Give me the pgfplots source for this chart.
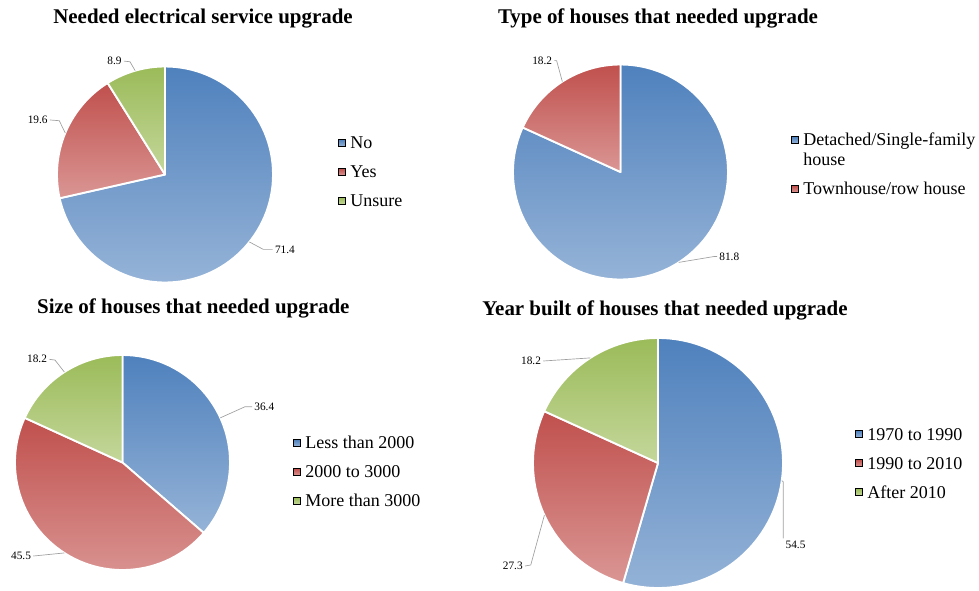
\documentclass[border=0pt]{standalone}
\usepackage{pgfplots}
\usepackage{pgfplotstable}
\pgfplotsset{compat=1.18}
\usepackage{fontspec}
\setmainfont{Liberation Serif}

\definecolor{bluetop}{RGB}{79,129,189}
\definecolor{bluebot}{RGB}{149,179,215}
\definecolor{redtop}{RGB}{192,80,77}
\definecolor{redbot}{RGB}{218,150,148}
\definecolor{greentop}{RGB}{155,187,89}
\definecolor{greenbot}{RGB}{196,215,155}

% value, colour, leader elbow (ex,ey) and end (tx,ty) in pie radii, label anchor
\pgfplotstableread[col sep=comma]{
value,col,ex,ey,tx,ty,anc
71.4,blue,0.910,-0.693,0.997,-0.693,west
19.6,red,-0.979,0.498,-1.065,0.505,east
8.9,green,-0.324,1.044,-0.380,1.050,east
}\pieservice
\pgfplotstableread[col sep=comma]{
value,col,ex,ey,tx,ty,anc
81.8,blue,0.870,-0.786,0.898,-0.786,west
18.2,red,-0.594,1.035,-0.614,1.037,east
}\pietype
\pgfplotstableread[col sep=comma]{
value,col,ex,ey,tx,ty,anc
36.4,blue,1.140,0.519,1.205,0.519,west
45.5,red,-0.830,-0.870,-0.830,-0.870,east
18.2,green,-0.628,0.953,-0.681,0.960,east
}\piesize
\pgfplotstableread[col sep=comma]{
value,col,ex,ey,tx,ty,anc
54.5,blue,1.002,-0.150,1.002,-0.602,north west
27.3,red,-1.018,-0.816,-1.064,-0.824,east
18.2,green,-0.918,0.816,-0.918,0.816,east
}\pieyear

\tikzset{
  leader/.style={draw=gray!75, line width=0.5pt},
  pielabel/.style={font=\fontsize{8.5}{10}\selectfont, inner sep=1.5pt},
  pietitle/.style={font=\bfseries\fontsize{15.7}{18}\selectfont, anchor=base},
}

\pgfplotsset{
  pie/.style={hide axis, clip=false, xmin=-1, xmax=1, ymin=-1, ymax=1, anchor=center,
    legend cell align=left,
    legend style={draw=none, fill=none, inner sep=0pt, row sep=12.75pt, column sep=3.75pt,
      anchor=west, font=\fontsize{13.5}{15}\selectfont,
      nodes={inner sep=0pt, text height=9pt, text depth=0pt}}},
  sq/.style 2 args={legend image code/.code={%
    \shade[top color=#1, bottom color=#2] (0pt,-2.5pt) rectangle (5pt,2.5pt);}},
}

% slices start at 12 o'clock and run clockwise
\newcommand\drawpie[2]{%
  \pgfplotstablegetrowsof{#1}%
  \pgfmathtruncatemacro\pielast{\pgfplotsretval-1}%
  \def\pietotal{0}%
  \pgfplotsforeachungrouped \pierow in {0,...,\pielast}{%
    \pgfplotstablegetelem{\pierow}{value}\of{#1}%
    \pgfmathsetmacro\pietotal{\pietotal+\pgfplotsretval}%
  }%
  \def\piestart{90}%
  \pgfplotsforeachungrouped \pierow in {0,...,\pielast}{%
    \pgfplotstablegetelem{\pierow}{value}\of{#1}\let\pieval\pgfplotsretval
    \pgfplotstablegetelem{\pierow}{col}\of{#1}\let\piecol\pgfplotsretval
    \pgfplotstablegetelem{\pierow}{ex}\of{#1}\let\pieex\pgfplotsretval
    \pgfplotstablegetelem{\pierow}{ey}\of{#1}\let\pieey\pgfplotsretval
    \pgfplotstablegetelem{\pierow}{tx}\of{#1}\let\pietx\pgfplotsretval
    \pgfplotstablegetelem{\pierow}{ty}\of{#1}\let\piety\pgfplotsretval
    \pgfplotstablegetelem{\pierow}{anc}\of{#1}\let\pieanc\pgfplotsretval
    \pgfmathsetmacro\pieend{\piestart-\pieval/\pietotal*360}%
    \pgfmathsetmacro\piemid{(\piestart+\pieend)/2}%
    \pgfmathsetmacro\piexs{cos(\piestart)}\pgfmathsetmacro\pieys{sin(\piestart)}%
    \pgfmathsetmacro\piexm{cos(\piemid)}\pgfmathsetmacro\pieym{sin(\piemid)}%
    \edef\pieslice{%
      \noexpand\path[draw=white, line width=1.4pt, line join=round,
        top color=\piecol top, bottom color=\piecol bot]
        (axis cs:0,0) -- (axis cs:\piexs,\pieys)
        arc[start angle=\piestart, end angle=\pieend, radius=#2] -- cycle;
      \noexpand\draw[leader] (axis cs:\piexm,\pieym) -- (axis cs:\pieex,\pieey)
        -- (axis cs:\pietx,\piety) node[pielabel, anchor=\pieanc] {\pieval};
    }\pieslice
    \let\piestart\pieend
  }%
}

\begin{document}
\begin{tikzpicture}
\useasboundingbox (0,0) rectangle (734.25pt,-442.5pt);

\begin{axis}[pie, at={(123.75pt,-130.875pt)}, x=81pt, y=81pt,
  legend style={at={(1.301,0.512)}}]
  \drawpie{\pieservice}{81pt}
  \node[pietitle] at (axis cs:0.352,1.394) {Needed electrical service upgrade};
  \addlegendimage{sq={bluetop}{bluebot}}\addlegendentry{No}
  \addlegendimage{sq={redtop}{redbot}}\addlegendentry{Yes}
  \addlegendimage{sq={greentop}{greenbot}}\addlegendentry{Unsure}
\end{axis}

\begin{axis}[pie, at={(465.375pt,-129pt)}, x=80.625pt, y=80.625pt,
  legend style={at={(1.293,0.535)}}]
  \drawpie{\pietype}{80.625pt}
  \node[pietitle] at (axis cs:0.349,1.377) {Type of houses that needed upgrade};
  \addlegendimage{sq={bluetop}{bluebot}}\addlegendentry{Detached/Single-family}
  \addlegendimage{empty legend}\addlegendentry[text height=2.25pt]{house}
  \addlegendimage{sq={redtop}{redbot}}\addlegendentry{Townhouse/row house}
\end{axis}

\begin{axis}[pie, at={(91.875pt,-346.875pt)}, x=80.625pt, y=80.625pt,
  legend style={at={(1.293,0.456)}}]
  \drawpie{\piesize}{80.625pt}
  \node[pietitle] at (axis cs:0.659,1.388) {Size of houses that needed upgrade};
  \addlegendimage{sq={bluetop}{bluebot}}\addlegendentry{Less than 2000}
  \addlegendimage{sq={redtop}{redbot}}\addlegendentry{2000 to 3000}
  \addlegendimage{sq={greentop}{greenbot}}\addlegendentry{More than 3000}
\end{axis}

\begin{axis}[pie, at={(493.5pt,-347.25pt)}, x=93.75pt, y=93.75pt,
  legend style={at={(1.288,0.5)}}]
  \drawpie{\pieyear}{93.75pt}
  \node[pietitle] at (axis cs:0.056,1.184) {Year built of houses that needed upgrade};
  \addlegendimage{sq={bluetop}{bluebot}}\addlegendentry{1970 to 1990}
  \addlegendimage{sq={redtop}{redbot}}\addlegendentry{1990 to 2010}
  \addlegendimage{sq={greentop}{greenbot}}\addlegendentry{After 2010}
\end{axis}
\end{tikzpicture}
\end{document}
